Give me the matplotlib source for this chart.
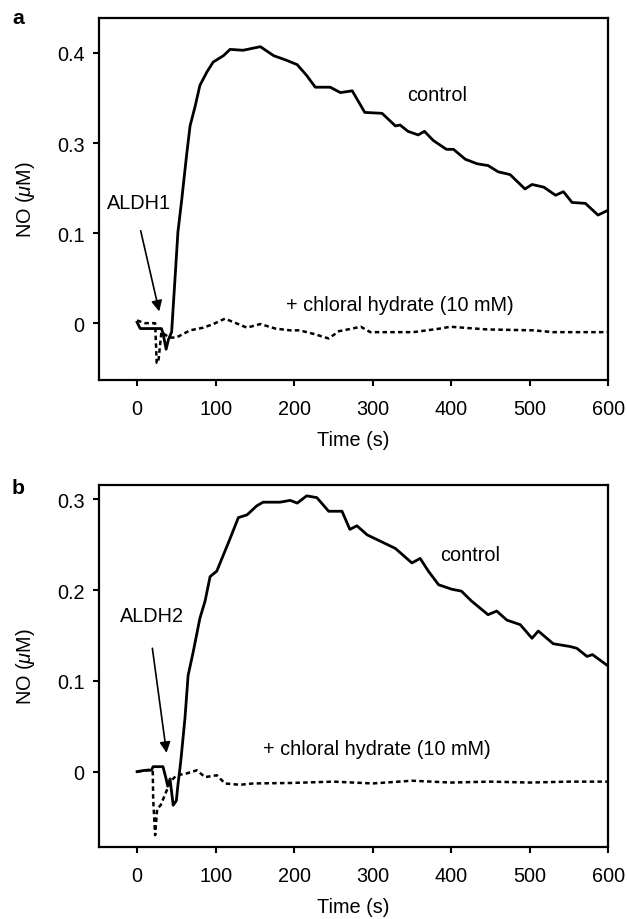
import matplotlib
matplotlib.use("Agg")
import matplotlib.pyplot as plt

plt.rcParams['font.family'] = ['Liberation Sans', 'DejaVu Sans']
plt.rcParams['mathtext.fontset'] = 'custom'
plt.rcParams['mathtext.rm'] = 'Liberation Sans'
plt.rcParams['mathtext.it'] = 'Liberation Sans:italic'

# ---- panel a (values in axis-position units; the printed tick labels are 0, 0.1, 0.3, 0.4)
t_ctrl_a = [0, 4, 31, 33, 37, 40, 44, 48, 52, 57, 63, 67.5, 74, 80, 89, 97, 110, 118.5, 135,
            157, 174, 190, 204, 216, 227, 246, 259, 274, 290, 312, 329, 335, 345, 358, 366,
            377, 394, 403, 418, 433, 447, 460, 475, 494, 503, 518, 533, 543, 554, 571, 587, 599]
y_ctrl_a = [0.001, -0.006, -0.006, -0.011, -0.029, -0.018, -0.010, 0.045, 0.101, 0.138, 0.186,
            0.219, 0.241, 0.264, 0.279, 0.290, 0.297, 0.304, 0.303, 0.307, 0.297, 0.292, 0.287,
            0.275, 0.262, 0.262, 0.256, 0.258, 0.234, 0.233, 0.219, 0.220, 0.213, 0.209, 0.213,
            0.203, 0.193, 0.193, 0.182, 0.177, 0.175, 0.168, 0.165, 0.149, 0.154, 0.151, 0.142,
            0.146, 0.134, 0.133, 0.120, 0.125]
t_chl_a = [0, 10, 18, 23, 25, 27, 31, 41, 50, 67.5, 84.5, 97, 112, 123, 140, 157, 176, 195,
           207, 225, 244, 257, 274, 285, 297, 352, 386, 399, 446, 505, 530, 599]
y_chl_a = [0.003, 0.0, 0.0, 0.0, -0.044, -0.044, -0.010, -0.016, -0.016, -0.008, -0.005,
           -0.001, 0.005, 0.001, -0.005, -0.001, -0.006, -0.008, -0.008, -0.012, -0.017,
           -0.009, -0.006, -0.004, -0.010, -0.010, -0.006, -0.004, -0.007, -0.008, -0.010, -0.010]
yticks_a = [0, 0.1, 0.2, 0.3]
yticklabels_a = ['0', '0.1', '0.3', '0.4']

# ---- panel b
t_ctrl_b = [0, 10, 18, 20.5, 33, 37, 39, 42, 46, 50, 52, 55.6, 61, 65, 71.5, 80, 86.6, 93,
            101.5, 110, 118.5, 129, 140, 152.5, 160.5, 182, 195, 204, 216, 229, 244, 261, 271,
            280, 293, 305, 329, 343.5, 350, 360.5, 371, 384, 401, 413, 426, 447, 458, 471, 488,
            503, 511, 530, 551, 560, 573, 580, 599]
y_ctrl_b = [0.0, 0.0015, 0.0015, 0.0055, 0.0055, -0.008, -0.016, -0.008, -0.037, -0.032,
            -0.015, 0.011, 0.059, 0.106, 0.132, 0.169, 0.188, 0.215, 0.221, 0.239, 0.257, 0.280,
            0.283, 0.293, 0.297, 0.297, 0.299, 0.296, 0.304, 0.302, 0.287, 0.287, 0.267, 0.271,
            0.261, 0.256, 0.246, 0.235, 0.230, 0.235, 0.221, 0.206, 0.201, 0.199, 0.188, 0.173,
            0.177, 0.167, 0.162, 0.147, 0.155, 0.141, 0.138, 0.136, 0.127, 0.129, 0.117]
t_chl_b = [0, 15, 20, 20.5, 23, 25.6, 30, 38.6, 42, 50.5, 63, 76, 86.6, 101.5, 112, 131, 148,
           195, 250, 300, 350, 400, 450, 500, 550, 600]
y_chl_b = [0.0, 0.002, 0.0, -0.030, -0.070, -0.041, -0.037, -0.019, -0.011, -0.004, -0.002,
           0.0015, -0.006, -0.004, -0.013, -0.0145, -0.013, -0.0125, -0.011, -0.013, -0.010,
           -0.012, -0.011, -0.012, -0.011, -0.011]
yticks_b = [0, 0.1, 0.2, 0.3]
yticklabels_b = ['0', '0.1', '0.2', '0.3']

xticks = [0, 100, 200, 300, 400, 500, 600]

fs = 14.3

fig = plt.figure(figsize=(6.27, 9.2), dpi=100)
ax_a = fig.add_axes([0.158, 0.586, 0.812, 0.3935])
ax_b = fig.add_axes([0.158, 0.0783, 0.812, 0.3935])


def style(ax, ylim, yticks, ylabels):
    ax.set_xlim(-48.4, 600)
    ax.set_ylim(*ylim)
    ax.set_xticks(xticks)
    ax.set_yticks(yticks)
    ax.set_yticklabels(ylabels)
    ax.tick_params(direction='out', length=4.5, width=1.5, labelsize=fs)
    ax.tick_params(axis='x', pad=9)
    ax.tick_params(axis='y', pad=6)
    for s in ax.spines.values():
        s.set_linewidth(1.6)
    ax.set_xlabel('Time (s)', fontsize=fs, labelpad=9)
    ax.set_ylabel(r'NO ($\mu$M)', fontsize=fs, labelpad=14)


ax_a.plot(t_ctrl_a, y_ctrl_a, color='black', lw=2.0)
ax_a.plot(t_chl_a, y_chl_a, color='black', lw=1.8, linestyle=(0, (1.8, 1.3)))
style(ax_a, (-0.063, 0.339), yticks_a, yticklabels_a)
ax_a.text(2.5, 0.134, 'ALDH1', fontsize=fs, ha='center', va='center')
ax_a.annotate('', xy=(29, 0.010), xytext=(3.8, 0.1056),
              arrowprops=dict(arrowstyle='-|>', color='black', lw=1.2, mutation_scale=16))
ax_a.text(382, 0.254, 'control', fontsize=fs, ha='center', va='center')
ax_a.text(335, 0.021, '+ chloral hydrate (10 mM)', fontsize=fs, ha='center', va='center')

ax_b.plot(t_ctrl_b, y_ctrl_b, color='black', lw=2.0)
ax_b.plot(t_chl_b, y_chl_b, color='black', lw=1.8, linestyle=(0, (1.8, 1.3)))
style(ax_b, (-0.083, 0.316), yticks_b, yticklabels_b)
ax_b.text(19, 0.172, 'ALDH2', fontsize=fs, ha='center', va='center')
ax_b.annotate('', xy=(38, 0.0177), xytext=(19, 0.139),
              arrowprops=dict(arrowstyle='-|>', color='black', lw=1.2, mutation_scale=16))
ax_b.text(424, 0.239, 'control', fontsize=fs, ha='center', va='center')
ax_b.text(305, 0.025, '+ chloral hydrate (10 mM)', fontsize=fs, ha='center', va='center')

fig.text(12 / 627, 1 - 19 / 920, 'a', fontsize=fs + 1, fontweight='bold', va='center')
fig.text(12 / 627, 1 - 489 / 920, 'b', fontsize=fs + 1, fontweight='bold', va='center')

fig.savefig('out.png', dpi=100)
